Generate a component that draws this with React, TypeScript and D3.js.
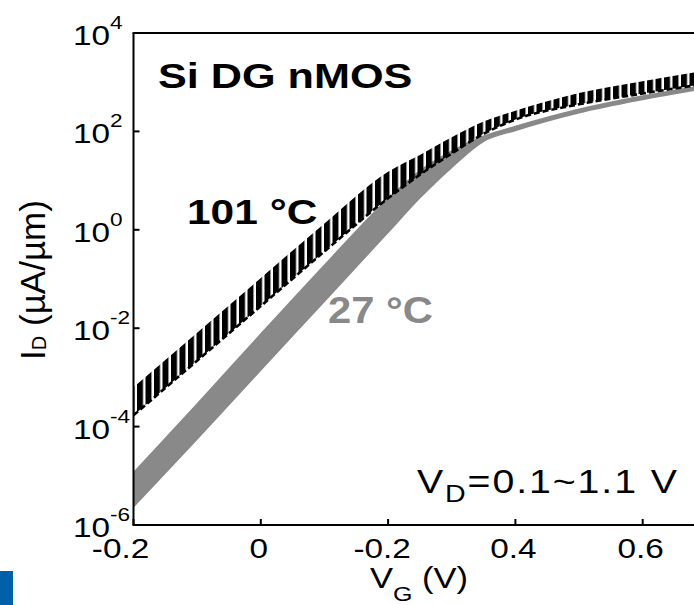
import React from "react";
import * as d3 from "d3";

// ---- data (log10 of I_D in µA/µm) ----
const vg = [-0.2, -0.1, 0, 0.1, 0.2, 0.25, 0.3, 0.35, 0.4, 0.5, 0.6, 0.7];
const hotHighVd = [-3.2, -2.09, -0.98, 0.13, 1.18, 1.52, 1.88, 2.2, 2.42, 2.78, 3.02, 3.24];
const hotLowVd = [-3.77, -2.66, -1.55, -0.44, 0.64, 1.12, 1.55, 1.95, 2.24, 2.55, 2.77, 2.97];
const roomHighVd = [-4.94, -3.54, -2.12, -0.72, 0.63, 1.2, 1.6, 1.9, 2.1, 2.45, 2.72, 2.94];
const roomLowVd = [-5.63, -4.25, -2.85, -1.45, -0.05, 0.65, 1.27, 1.8, 2.02, 2.38, 2.65, 2.88];

const xTickValues = [-0.2, 0, 0.2, 0.4, 0.6];
const xTickLabels = ["-0.2", "0", "-0.2", "0.4", "0.6"];
const yTickExps = [4, 2, 0, -2, -4, -6];

const W = 694;
const H = 605;
const L = 133.5;
const T = 33;
const B = 525;

const FONT = "'Liberation Sans', Arial, Helvetica, sans-serif";
const GRAY = "#898989";

export default function App() {
  const x = d3.scaleLinear().domain([-0.2, 0.7]).range([L, L + 0.9 * 636.5]);
  const y = d3.scaleLog().domain([1e-6, 1e4]).range([B, T]);
  const R = x(0.7);

  const band = (hi: number[], lo: number[]) =>
    d3
      .area<number>()
      .x((_, i) => x(vg[i]))
      .y0((_, i) => y(Math.pow(10, lo[i])))
      .y1((_, i) => y(Math.pow(10, hi[i])))
      .curve(d3.curveMonotoneX)(vg.map((_, i) => i)) as string;

  const line = (vals: number[]) =>
    d3
      .line<number>()
      .x((_, i) => x(vg[i]))
      .y((_, i) => y(Math.pow(10, vals[i])))
      .curve(d3.curveMonotoneX)(vg.map((_, i) => i)) as string;

  return (
    <svg
      width={W}
      height={H}
      viewBox={`0 0 ${W} ${H}`}
      style={{ position: "absolute", left: 0, top: 0, display: "block", background: "#fff" }}
    >
      <defs>
        <clipPath id="plotClip">
          <rect x={L} y={T} width={R - L} height={B - T} />
        </clipPath>
        <pattern id="hatch" width={8.5} height={8} patternUnits="userSpaceOnUse" patternTransform="translate(1,0)">
          <rect x={0} y={0} width={6} height={8} fill="#000" />
        </pattern>
      </defs>
      <rect x={0} y={0} width={W} height={H} fill="#fff" />

      <g clipPath="url(#plotClip)">
        {/* 27 °C band */}
        <path d={band(roomHighVd, roomLowVd)} fill={GRAY} stroke={GRAY} strokeWidth={1.5} />
        {/* 101 °C band */}
        <path d={band(hotHighVd, hotLowVd)} fill="url(#hatch)" stroke="none" />
        <path d={line(hotLowVd)} fill="none" stroke="#000" strokeWidth={2.6} strokeDasharray="6,3" />
      </g>

      {/* axes */}
      <line x1={L} y1={T} x2={L} y2={B} stroke="#000" strokeWidth={2} />
      <line x1={L - 1} y1={B} x2={R} y2={B} stroke="#000" strokeWidth={2} />
      <line x1={L - 1} y1={T} x2={R} y2={T} stroke="#000" strokeWidth={2} />

      {yTickExps.map((e) => {
        const yy = y(Math.pow(10, e));
        return (
          <g key={`y${e}`}>
            <line x1={L} x2={L + 6} y1={yy} y2={yy} stroke="#000" strokeWidth={2} />
            <text
              transform={`translate(73,${yy + 12}) scale(1.19,1)`}
              fontFamily={FONT}
              fontSize={28}
              fill="#000"
            >
              10
              <tspan dy={-16} fontSize={19}>
                {e}
              </tspan>
            </text>
          </g>
        );
      })}

      {xTickValues.map((v, i) => {
        const xx = x(v);
        const lab = xTickLabels[i];
        const dx = i === 0 ? -13 : lab.startsWith("-") ? -6 : -2;
        return (
          <g key={`x${i}`}>
            <line x1={xx} x2={xx} y1={B} y2={B - 6} stroke="#000" strokeWidth={2} />
            <text
              transform={`translate(${xx + dx},558) scale(1.19,1)`}
              textAnchor="middle"
              fontFamily={FONT}
              fontSize={28}
              fill="#000"
            >
              {lab}
            </text>
          </g>
        );
      })}

      {/* axis titles */}
      <text transform="translate(370,588) scale(1.19,1)" fontFamily={FONT} fontSize={29} fill="#000">
        V
        <tspan dy={13} fontSize={21}>
          G
        </tspan>
        <tspan dy={-13} fontSize={29}>
          {" (V)"}
        </tspan>
      </text>

      <text transform="translate(45,280) rotate(-90)" textAnchor="middle" fontFamily={FONT} fontSize={35} fill="#000">
        I
        <tspan dy={1} fontSize={20}>
          D
        </tspan>
        <tspan dy={-1} fontSize={35}>
          {" (µA/µm)"}
        </tspan>
      </text>

      {/* annotations */}
      <text transform="translate(158,88) scale(1.2,1)" fontFamily={FONT} fontSize={36} fontWeight="bold" fill="#000">
        Si DG nMOS
      </text>
      <text transform="translate(187,224) scale(1.18,1)" fontFamily={FONT} fontSize={36} fontWeight="bold" fill="#000">
        101 °C
      </text>
      <text transform="translate(328,323) scale(1.16,1)" fontFamily={FONT} fontSize={36} fontWeight="bold" fill={GRAY}>
        27 °C
      </text>
      <text
        transform="translate(417,493) scale(1.19,1)"
        fontFamily={FONT}
        fontSize={33}
        letterSpacing={1.6}
        fill="#000"
      >
        V
        <tspan dy={9} fontSize={24}>
          D
        </tspan>
        <tspan dy={-9} fontSize={33}>
          =0.1~1.1 V
        </tspan>
      </text>

      {/* blue marker bottom-left */}
      <rect x={0} y={571} width={13} height={H - 571} fill="#0060A8" />
    </svg>
  );
}
